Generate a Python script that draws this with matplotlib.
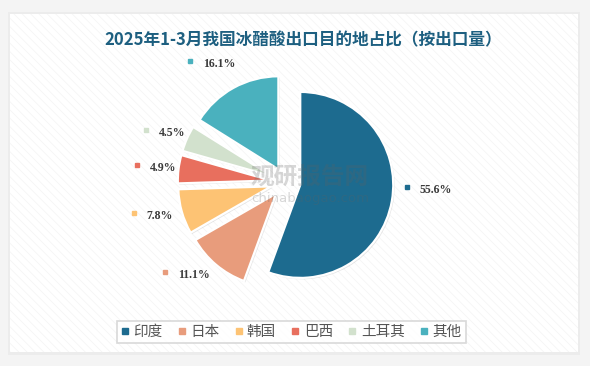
import matplotlib
matplotlib.use("Agg")
import matplotlib.pyplot as plt
import numpy as np
from matplotlib.patches import Rectangle
from matplotlib.lines import Line2D
import matplotlib.patheffects as pe

plt.rcParams['font.family'] = ['Noto Sans CJK SC', 'DejaVu Sans']
plt.rcParams['hatch.linewidth'] = 0.4

# ---- data ----
title = "2025年1-3月我国冰醋酸出口目的地占比（按出口量）"
categories = ["印度", "日本", "韩国", "巴西", "土耳其", "其他"]
shares = [55.6, 11.1, 7.8, 4.9, 4.5, 16.1]
colors = ["#1d6b8f", "#e89c7c", "#fdc374", "#e86f5e", "#d2e1cd", "#4ab1be"]

# ---- layout ----
W, H = 590, 366
R = 93.0                      # pie radius in px
cx, cy = 285.6, 182.3         # pie centre in px (from top-left)
label_offsets = [(121, 5), (-121, 90), (-152, 31), (-149, -17), (-140, -52), (-96, -121)]

fig = plt.figure(figsize=(W / 100, H / 100), dpi=100)
fig.patch.set_facecolor("#f4f4f4")

# panel with shadow
fig.patches.append(Rectangle((8 / W, 1 - 355 / H), 572 / W, 343 / H, transform=fig.transFigure,
                             facecolor="#ececec", edgecolor="none", zorder=-3))
fig.patches.append(Rectangle((10 / W, 1 - 352 / H), 568 / W, 338 / H, transform=fig.transFigure,
                             facecolor="white", edgecolor="none", zorder=-2))
fig.patches.append(Rectangle((10 / W, 1 - 352 / H), 568 / W, 338 / H, transform=fig.transFigure,
                             facecolor="none", edgecolor="#f1f1f1", hatch="\\\\\\\\", linewidth=0, zorder=-1))

ax = fig.add_axes([0, 0, 1, 1])
ax.set_facecolor("none")

wedges, _ = ax.pie(shares, colors=colors, startangle=90, counterclock=False,
                   explode=[0.16] * len(shares), radius=1.0, center=(0, 0),
                   wedgeprops=dict(edgecolor="white", linewidth=1.6))
for w in wedges:
    w.set_path_effects([pe.SimplePatchShadow(offset=(1, -1), shadow_rgbFace="#999999", alpha=0.25),
                        pe.Normal()])
ax.set_aspect("auto")
ax.set_xlim(-cx / R, (W - cx) / R)
ax.set_ylim(-(H - cy) / R, cy / R)
ax.axis("off")

# watermark
ax.text((310 - cx) / R, -(177 - cy) / R, "观研报告网", fontsize=17, fontweight="bold",
        color="#606060", alpha=0.25, ha="center", va="center", zorder=10)
ax.text((310 - cx) / R, -(199 - cy) / R, "chinabaogao.com", fontsize=9.5,
        color="#606060", alpha=0.25, ha="center", va="center", zorder=10,
        family=["DejaVu Sans"])

# labels
for (dx, dy), s, c in zip(label_offsets, shares, colors):
    mx, my = dx / R, -dy / R
    ax.plot([mx], [my], marker="s", markersize=3.2, color=c, linestyle="none", zorder=11)
    ax.text(mx + 13 / R, my - 3 / R, f"{s:.1f}%", fontsize=8.5, fontweight="bold",
            color="#3a3a3a", ha="left", va="center", family=["Liberation Serif", "DejaVu Serif"],
            zorder=11)

# title
fig.text(303 / W, 1 - 40 / H, title, fontsize=12, fontweight="bold", color="#1d5f80",
         ha="center", va="center", family=["Noto Sans CJK SC", "DejaVu Sans"])

# legend
handles = [Line2D([0], [0], marker="s", color="w", markerfacecolor=c, markeredgecolor=c,
                  markersize=5, linestyle="none") for c in colors]
leg = fig.legend(handles, categories, loc="center", bbox_to_anchor=(291.5 / W, 1 - 332 / H),
                 ncol=6, frameon=True, fancybox=False, handlelength=0.45,
                 handletextpad=0.35, columnspacing=1.1, borderpad=0.3,
                 prop={"size": 10.5, "weight": "medium"})
leg.get_frame().set_edgecolor("#d0d0d0")
leg.get_frame().set_linewidth(1.2)
for t in leg.get_texts():
    t.set_color("#555555")

fig.savefig("out.png", dpi=100, facecolor=fig.get_facecolor())
